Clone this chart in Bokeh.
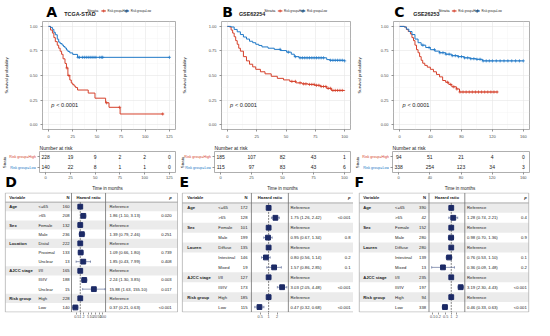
import math
from bisect import bisect_right
from bokeh.plotting import figure
from bokeh.layouts import column, row
from bokeh.models import Range1d, FixedTicker, NumeralTickFormatter, CustomJSTickFormatter
from bokeh.core.properties import value
from bokeh.embed import file_html
from bokeh.resources import INLINE

FONT = "Liberation Sans"
RED = "#D5402B"
BLUE = "#2079C7"
NAVY = "#1C2A66"
TXT = "#222222"
TICK = "#4D4D4D"

# ---------------- data: Kaplan-Meier curves ----------------
A_title = "TCGA-STAD"
A_high_t = [0, 2, 4, 5.5, 7, 9, 10.5, 12, 13.5, 15, 17, 18.5, 20, 22, 23.5, 25, 26.5, 28, 30, 41, 48, 59, 62.5, 74, 119]
A_high_s = [1.0, 0.963, 0.932, 0.886, 0.845, 0.808, 0.778, 0.747, 0.716, 0.67, 0.623, 0.577, 0.5, 0.454, 0.423, 0.407, 0.392, 0.377, 0.352, 0.321, 0.269, 0.222, 0.176, 0.108, 0.108]
A_low_t = [0, 2, 4, 5.5, 7, 9, 10.5, 12, 14, 15.5, 17, 18.5, 20, 22, 25, 30, 125]
A_low_s = [1.0, 0.99, 0.97, 0.94, 0.915, 0.87, 0.84, 0.825, 0.81, 0.795, 0.78, 0.76, 0.745, 0.73, 0.715, 0.685, 0.685]
A_high_cens = [19, 21, 60, 73.5, 118]
A_low_cens = [30.5, 32, 35, 37, 39, 41, 43, 45, 47, 49, 53, 55, 56, 125]
A_times = [0, 25, 50, 75, 100, 125]
A_risk_high = [228, 19, 9, 2, 2, 0]
A_risk_low = [140, 22, 8, 1, 1, 0]

B_title = "GSE62254"
B_high_t = [0, 1.8, 3.2, 4.5, 5.8, 7.1, 8.4, 9.7, 11.1, 13.7, 16.3, 18.9, 21.6, 24.2, 28.2, 32.1, 37.4, 42.6, 47.9, 53.2, 58.4, 63.7, 68.9, 74.2, 79.5, 84.7, 88.7, 100]
B_high_s = [1.0, 0.994, 0.963, 0.932, 0.895, 0.855, 0.818, 0.778, 0.748, 0.692, 0.649, 0.615, 0.588, 0.563, 0.538, 0.517, 0.492, 0.471, 0.455, 0.44, 0.425, 0.415, 0.409, 0.4, 0.388, 0.369, 0.348, 0.342]
B_low_t = [0, 3.2, 5.8, 8.4, 11.1, 13.7, 16.3, 18.9, 21.6, 24.2, 26.8, 29.5, 34.7, 40, 45.3, 50.5, 54.5, 57.1, 61.1, 82.1, 84.7, 87.4, 100]
B_low_s = [1.0, 0.994, 0.969, 0.945, 0.917, 0.892, 0.871, 0.849, 0.834, 0.818, 0.806, 0.791, 0.778, 0.766, 0.754, 0.738, 0.717, 0.692, 0.68, 0.68, 0.662, 0.655, 0.649]
B_high_cens = [55, 58, 62, 65, 67, 70, 72, 74, 76, 78, 80, 82, 84, 86, 88, 90, 92, 94, 96, 98]
B_low_cens = [45, 52, 58, 62, 64, 66, 68, 70, 72, 74, 76, 78, 80, 82, 88, 90, 92, 94, 96, 98, 100]
B_times = [0, 25, 50, 75, 100]
B_risk_high = [185, 107, 82, 43, 1]
B_risk_low = [115, 97, 83, 43, 6]

C_title = "GSE26253"
C_high_t = [0, 6, 8.7, 11.1, 13.9, 15.9, 17.9, 19.8, 21.8, 23.8, 25.8, 27.8, 29.8, 32.5, 35.7, 39.7, 43.7, 47.6, 51.6, 55.6, 59.5, 63.5, 67.5, 73.4, 77.4, 127]
C_high_s = [1.0, 0.994, 0.969, 0.948, 0.923, 0.886, 0.855, 0.809, 0.763, 0.732, 0.692, 0.655, 0.625, 0.603, 0.585, 0.563, 0.538, 0.511, 0.486, 0.449, 0.431, 0.409, 0.385, 0.363, 0.332, 0.332]
C_low_t = [0, 6, 8.7, 11.9, 15.9, 19.8, 23.8, 27.8, 33.7, 39.7, 45.6, 51.6, 59.5, 67.5, 75.4, 83.3, 91.3, 99.2, 107.1, 160]
C_low_s = [1.0, 0.994, 0.972, 0.948, 0.917, 0.871, 0.834, 0.809, 0.785, 0.763, 0.748, 0.732, 0.717, 0.702, 0.692, 0.68, 0.671, 0.665, 0.649, 0.649]
C_high_cens = [62, 66, 70, 74, 78, 82, 86, 90, 94, 98, 102, 106, 110, 114, 118, 122, 126]
C_low_cens = [30, 38, 45, 52, 56, 60, 64, 68, 72, 76, 80, 84, 88, 92, 96, 100, 104, 108, 112, 116, 120, 125, 130, 135, 140, 145, 150, 155, 160]
C_times = [0, 40, 80, 120, 160]
C_risk_high = [94, 51, 21, 4, 0]
C_risk_low = [338, 254, 123, 34, 3]

STRATA = ["Risk group=High", "Risk group=Low"]

# ---------------- data: forest plots ----------------
D_var = ["Age", "", "Sex", "", "Location", "", "", "AJCC stage", "", "", "Risk group", ""]
D_lvl = ["<=65", ">65", "Female", "Male", "Distal", "Proximal", "Unclear", "I/II", "III/IV", "Unclear", "High", "Low"]
D_n = [160, 208, 132, 236, 222, 133, 13, 165, 188, 15, 228, 140]
D_hr = [None, 1.86, None, 1.39, None, 1.09, 1.85, None, 2.24, 15.88, None, 0.37]
D_lo = [None, 1.10, None, 0.79, None, 0.66, 0.43, None, 1.30, 1.63, None, 0.21]
D_hi = [None, 3.13, None, 2.46, None, 1.80, 7.99, None, 3.85, 155.10, None, 0.63]
D_p = ["", "0.020", "", "0.251", "", "0.739", "0.408", "", "0.003", "0.017", "", "<0.001"]
D_ticks = [0.5, 1, 2, 5, 10, 20, 50, 100]

E_var = ["Age", "", "Sex", "", "Lauren", "", "", "AJCC stage", "", "Risk group", ""]
E_lvl = ["<=65", ">65", "Female", "Male", "Diffuse", "Intestinal", "Mixed", "I/II", "III/IV", "High", "Low"]
E_n = [172, 128, 101, 199, 135, 146, 19, 127, 173, 185, 115]
E_hr = [None, 1.75, None, 0.95, None, 0.80, 1.57, None, 3.03, None, 0.47]
E_lo = [None, 1.26, None, 0.67, None, 0.56, 0.86, None, 2.05, None, 0.32]
E_hi = [None, 2.42, None, 1.34, None, 1.14, 2.85, None, 4.48, None, 0.68]
E_p = ["", "<0.001", "", "0.8", "", "0.2", "0.1", "", "<0.001", "", "<0.001"]
E_ticks = [0.5, 1, 2]

F_var = ["Age", "", "Sex", "", "Lauren", "", "", "AJCC stage", "", "Risk group", ""]
F_lvl = ["<=65", ">65", "Female", "Male", "Diffuse", "Intestinal", "Mixed", "I/II", "III/IV", "High", "Low"]
F_n = [390, 42, 152, 280, 280, 139, 13, 235, 197, 94, 338]
F_hr = [None, 1.28, None, 0.98, None, 0.76, 0.36, None, 3.19, None, 0.46]
F_lo = [None, 0.74, None, 0.70, None, 0.53, 0.09, None, 2.30, None, 0.33]
F_hi = [None, 2.21, None, 1.36, None, 1.10, 1.48, None, 4.43, None, 0.63]
F_p = ["", "0.4", "", "0.9", "", "0.1", "0.2", "", "<0.001", "", "<0.001"]
F_ticks = [0.1, 0.2, 0.5, 1, 2]

# ---------------- layout geometry (pixels) ----------------
SX = 534 / 550
SY = 320 / 336
HDR_H, KM_H, RISK_H, TIME_H, FOR_H = 20, 120, 41, 10, 129
KM_TOP, KM_BOT = 1, 9
RK_TOP, RK_BOT = 11, 8
FR_TOP, FR_BOT = 1, 8


def surv_at(ts, ss, t):
    i = bisect_right(ts, t) - 1
    return ss[max(i, 0)]


def strip(w, h, xr, yr):
    f = figure(width=w, height=h, x_range=xr, y_range=yr, title=None,
               output_backend="svg", toolbar_location=None, x_axis_location=None, y_axis_location=None,
               min_border_left=0, min_border_right=0, min_border_top=0, min_border_bottom=0)
    f.grid.visible = False
    f.outline_line_color = None
    f.background_fill_color = None
    f.border_fill_color = None
    return f


def style_axis(ax, fs="4px"):
    ax.axis_line_color = None
    ax.major_tick_line_color = TICK
    ax.major_tick_line_width = 0.6
    ax.major_tick_out = 2
    ax.major_tick_in = 0
    ax.minor_tick_line_color = None
    ax.major_label_text_font_size = fs
    ax.major_label_text_color = TICK
    ax.major_label_text_font = FONT
    ax.major_label_standoff = 1
    ax.axis_label_text_font = FONT
    ax.axis_label_text_font_style = "normal"
    ax.axis_label_text_color = TXT


def km_panel(Wmy, fl, fr, xmax, xticks, letter, title, geo, ylab_standoff,
             hi_t, hi_s, lo_t, lo_s, hi_c, lo_c, risk_hi, risk_lo, low_letter):
    letter_rel, title_rel, strata_right_rel, legend_left_rel = geo
    x0, x1 = -0.05 * xmax, 1.05 * xmax

    # ---- header strip: panel letter, dataset title, legend ----
    h = strip(Wmy, HDR_H, Range1d(0, Wmy), Range1d(HDR_H, 0))
    h.text(x=[letter_rel * SX], y=[11.4], text=[letter], text_font=value("DejaVu Sans"),
           text_font_style="bold", text_font_size="14px", text_color="black", text_baseline="middle")
    h.text(x=[title_rel * SX], y=[14 * SY], text=[title], text_font=value(FONT),
           text_font_style="bold", text_font_size="5.4px", text_color=TXT, text_baseline="middle")
    ly = 11 * SY
    h.text(x=[strata_right_rel * SX], y=[ly], text=["Strata"], text_font=value(FONT),
           text_font_size="4.2px", text_color=TXT, text_align="right", text_baseline="middle")
    key_x = [legend_left_rel * SX, (legend_left_rel + 32) * SX]
    key_w = 6.5 * SX
    h.segment(x0=key_x, x1=[k + key_w for k in key_x], y0=ly, y1=ly, line_color=[RED, BLUE], line_width=1.0)
    h.scatter(x=[k + key_w / 2 for k in key_x], y=[ly, ly], marker="cross", size=3.0,
              line_color=[RED, BLUE], line_width=0.7)
    h.text(x=[k + key_w + 2.2 for k in key_x], y=[ly, ly], text=STRATA, text_font=value(FONT),
           text_font_size="2.8px", text_color=TXT, text_baseline="middle")

    # ---- survival curves ----
    p = figure(width=Wmy, height=KM_H, x_range=Range1d(x0, x1), y_range=Range1d(-0.05, 1.05), title=None,
               output_backend="svg", toolbar_location=None,
               min_border_left=fl, min_border_right=fr, min_border_top=KM_TOP, min_border_bottom=KM_BOT)
    p.background_fill_color = "white"
    p.outline_line_color = "#9A9A9A"
    p.outline_line_width = 0.8
    minor_x = [(a + b) / 2 for a, b in zip(xticks[:-1], xticks[1:])]
    p.xaxis.ticker = FixedTicker(ticks=xticks, minor_ticks=minor_x)
    p.yaxis.ticker = FixedTicker(ticks=[0, 0.25, 0.5, 0.75, 1.0], minor_ticks=[0.125, 0.375, 0.625, 0.875])
    p.yaxis.formatter = NumeralTickFormatter(format="0.00")
    for g in (p.xgrid[0], p.ygrid[0]):
        g.grid_line_color = "#E6E6E6"
        g.grid_line_width = 0.6
        g.minor_grid_line_color = "#F2F2F2"
        g.minor_grid_line_width = 0.4
    style_axis(p.xaxis[0])
    style_axis(p.yaxis[0])
    p.yaxis.axis_label = "Survival probability"
    p.yaxis.axis_label_text_font_size = "4.3px"
    p.yaxis.axis_label_standoff = ylab_standoff

    p.step(hi_t, hi_s, mode="after", line_color=RED, line_width=1.0)
    p.step(lo_t, lo_s, mode="after", line_color=BLUE, line_width=1.0)
    p.scatter(hi_c, [surv_at(hi_t, hi_s, t) for t in hi_c], marker="cross", size=3.2,
              line_color=RED, line_width=0.7)
    p.scatter(lo_c, [surv_at(lo_t, lo_s, t) for t in lo_c], marker="cross", size=3.2,
              line_color=BLUE, line_width=0.7)
    px0 = xmax / 45
    p.text(x=[px0], y=[0.2], text=["p"], text_font=value(FONT), text_font_style="italic",
           text_font_size="5.6px", text_color=TXT, text_baseline="middle")
    p.text(x=[px0], y=[0.2], x_offset=5, text=["< 0.0001"], text_font=value(FONT),
           text_font_size="5.6px", text_color=TXT, text_baseline="middle")

    # ---- risk table ----
    lw = fl - 3
    rw = Wmy - lw
    r = figure(width=rw, height=RISK_H, x_range=Range1d(x0, x1), y_range=Range1d(-0.5, 1.5),
               output_backend="svg", toolbar_location=None,
               min_border_left=3, min_border_right=fr, min_border_top=RK_TOP, min_border_bottom=RK_BOT)
    r.outline_line_color = "#9A9A9A"
    r.outline_line_width = 0.8
    r.title.text = "Number at risk"
    r.title.text_font = FONT
    r.title.text_font_size = "5.1px"
    r.title.text_font_style = "normal"
    r.title.text_color = TXT
    r.title.align = "left"
    r.title.offset = 0
    r.title.standoff = 1
    r.xaxis.ticker = FixedTicker(ticks=xticks)
    r.yaxis.ticker = FixedTicker(ticks=[0, 1])
    r.yaxis.major_label_overrides = {0: "", 1: ""}
    r.xgrid.grid_line_color = "#EFEFEF"
    r.xgrid.grid_line_width = 0.5
    r.ygrid.grid_line_color = None
    style_axis(r.xaxis[0])
    style_axis(r.yaxis[0], fs="1px")
    r.yaxis.major_label_standoff = 0
    r.text(x=xticks, y=[1] * len(xticks), text=[str(v) for v in risk_hi], text_align="center",
           text_baseline="middle", text_font=value(FONT), text_font_size="5px", text_color=TXT)
    r.text(x=xticks, y=[0] * len(xticks), text=[str(v) for v in risk_lo], text_align="center",
           text_baseline="middle", text_font=value(FONT), text_font_size="5px", text_color=TXT)

    # axis title of the risk table
    tm = strip(rw, TIME_H, Range1d(0, rw), Range1d(TIME_H, 0))
    fw = rw - 3 - fr
    tm.text(x=[3 + fw / 2], y=[TIME_H / 2], text=["Time in months"], text_font=value(FONT),
            text_font_size="4.5px", text_color=TXT, text_align="center", text_baseline="middle")

    # ---- row labels, strata title and the next panel letter ----
    LH = RISK_H + TIME_H
    rppy = (RISK_H - RK_TOP - RK_BOT) / 2.0
    ytop = 1.5 + RK_TOP / rppy
    lab = strip(lw, LH, Range1d(0, lw), Range1d(ytop - LH / rppy, ytop))
    lab.text(x=[lw - 0.5, lw - 0.5], y=[1, 0], text=STRATA, text_font=value(FONT), text_font_size="3.6px",
             text_color=[RED, BLUE], text_align="right", text_baseline="middle")
    lab.text(x=[4.5 * SX], y=[0.5], text=["Strata"], angle=math.pi / 2, text_font=value(FONT),
             text_font_size="4.3px", text_color=TXT, text_align="center", text_baseline="middle")
    letter_y = ytop - (LH - 9.5) / rppy
    lab.text(x=[letter_rel * SX], y=[letter_y], text=[low_letter],
             text_font=value("DejaVu Sans"), text_font_style="bold", text_font_size="14px",
             text_color="black", text_baseline="middle")
    return column(h, p, row(lab, column(r, tm)))


def forest(Wmy, Wref, geo, var, lvl, nn, hr, lo, hi, pv, ticks):
    bl, vx, lx, nx, s1, s2, one, ppl, hx, px, br = geo

    def L(rel):
        return (rel - one) / ppl

    n = len(lvl)
    rows = list(range(1, n + 1))
    p = figure(width=Wmy, height=FOR_H, x_range=Range1d(L(0), L(Wref)), y_range=Range1d(n + 0.55, -0.55),
               title=None, output_backend="svg", toolbar_location=None, y_axis_location=None,
               min_border_left=0, min_border_right=0, min_border_top=FR_TOP, min_border_bottom=FR_BOT)
    p.grid.visible = False
    p.outline_line_color = None
    shade = [k for k, h in zip(rows, hr) if h is None]
    p.quad(left=L(bl), right=L(br), top=[k - 0.5 for k in shade], bottom=[k + 0.5 for k in shade],
           fill_color="#EBEBEB", line_color=None)
    p.quad(left=L(bl), right=L(br), top=-0.5, bottom=n + 0.5, fill_color=None,
           line_color="#A8A8A8", line_width=0.7)
    p.segment(x0=L(bl), x1=L(br), y0=0.5, y1=0.5, line_color="#8A8A8A", line_width=0.7)
    p.segment(x0=[L(s1), L(s2)], x1=[L(s1), L(s2)], y0=-0.5, y1=n + 0.5,
              line_color="#707070", line_width=0.8)
    p.segment(x0=0, x1=0, y0=0.5, y1=n + 0.5, line_dash="2 1", line_color="#333333", line_width=0.6)

    ci_rows = [k for k, h in zip(rows, hr) if h is not None]
    ci_lo = [math.log(v) for v in lo if v is not None]
    ci_hi = [math.log(v) for v in hi if v is not None]
    p.segment(x0=ci_lo, x1=ci_hi, y0=ci_rows, y1=ci_rows, line_color="#4A5A8C", line_width=0.6)
    p.segment(x0=ci_lo, x1=ci_lo, y0=[k - 0.12 for k in ci_rows], y1=[k + 0.12 for k in ci_rows],
              line_color="#4A5A8C", line_width=0.6)
    p.segment(x0=ci_hi, x1=ci_hi, y0=[k - 0.12 for k in ci_rows], y1=[k + 0.12 for k in ci_rows],
              line_color="#4A5A8C", line_width=0.6)
    est = [math.log(h) if h is not None else 0.0 for h in hr]
    p.scatter(est, rows, marker="square", size=4.8, fill_color=NAVY, line_color=NAVY)

    common = dict(text_font=value(FONT), text_font_size="4.2px", text_color=TXT, text_baseline="middle")
    p.text(x=[L(vx)], y=[0], text=["Variable"], text_font_style="bold", **common)
    p.text(x=[L(nx)], y=[0], text=["N"], text_font_style="bold", text_align="right", **common)
    p.text(x=[L((s1 + s2) / 2)], y=[0], text=["Hazard ratio"], text_font_style="bold",
           text_align="center", **common)
    p.text(x=[L(px)], y=[0], text=["p"], text_font_style="bold italic", text_align="right", **common)
    p.text(x=L(vx), y=rows, text=var, text_font_style="bold", **common)
    p.text(x=L(lx), y=rows, text=lvl, **common)
    p.text(x=L(nx), y=rows, text=[str(v) for v in nn], text_align="right", **common)
    hr_txt = ["Reference" if h is None else "%.2f (%.2f, %.2f)" % (h, a, b) for h, a, b in zip(hr, lo, hi)]
    p.text(x=L(hx), y=rows, text=hr_txt, **common)
    p.text(x=L(px), y=rows, text=pv, text_align="right", **common)

    p.xaxis.ticker = FixedTicker(ticks=[math.log(t) for t in ticks])
    p.xaxis.formatter = CustomJSTickFormatter(
        code="const v = Math.exp(tick); return String(Number(v.toPrecision(2)));")
    style_axis(p.xaxis[0], fs="3.8px")
    p.xaxis.major_label_standoff = 0
    return p


W_A, W_B, W_C = 178, 175, 181

colA = km_panel(W_A, 39, 3, 125, A_times, "A", A_title, (5, 30, 77, 81), 18,
                A_high_t, A_high_s, A_low_t, A_low_s, A_high_cens, A_low_cens,
                A_risk_high, A_risk_low, "D")
colB = km_panel(W_B, 36, 3, 100, B_times, "B", B_title, (1, 24.3, 75.3, 78.7), 19,
                B_high_t, B_high_s, B_low_t, B_low_s, B_high_cens, B_low_cens,
                B_risk_high, B_risk_low, "E")
colC = km_panel(W_C, 39, 5, 160, C_times, "C", C_title, (1, 27, 77, 80), 16,
                C_high_t, C_high_s, C_low_t, C_low_s, C_high_cens, C_low_cens,
                C_risk_high, C_risk_low, "F")

fD = forest(W_A, 183, (5, 9, 39, 71, 73, 108, 82, 5.06, 112, 176, 182),
            D_var, D_lvl, D_n, D_hr, D_lo, D_hi, D_p, D_ticks)
fE = forest(W_B, 180, (4, 9, 41, 71, 75, 113, 92.7, 12.5, 115.3, 177, 180),
            E_var, E_lvl, E_n, E_hr, E_lo, E_hi, E_p, E_ticks)
fF = forest(W_C, 187, (6, 10, 43, 75, 78, 115, 101, 8.4, 117.3, 179, 181),
            F_var, F_lvl, F_n, F_hr, F_lo, F_hi, F_p, F_ticks)

page = column(row(colA, colB, colC), row(fD, fE, fF))
open("out.html", "w").write(file_html(page, INLINE))
